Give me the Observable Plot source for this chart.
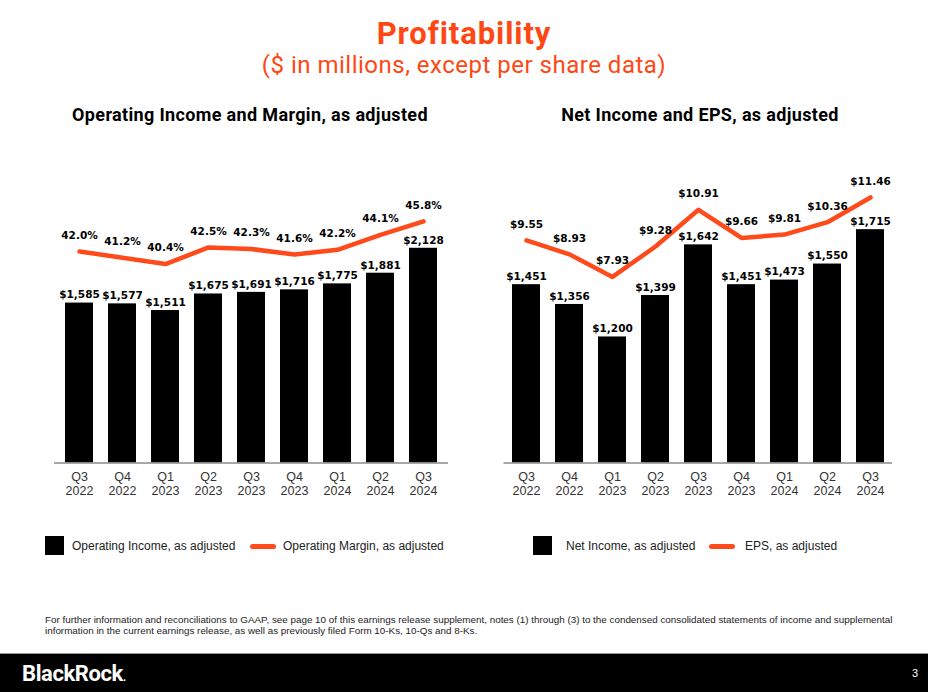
<!DOCTYPE html>
<html>
<head>
<meta charset="utf-8">
<script src="https://cdn.jsdelivr.net/npm/d3@7"></script>
<script src="https://cdn.jsdelivr.net/npm/@observablehq/plot@0.6"></script>
<style>
  html, body { margin: 0; padding: 0; background: #fff; }
  body { width: 928px; height: 692px; position: relative; overflow: hidden; font-family: "Liberation Sans", Arial, sans-serif; }
  .abs { position: absolute; }
  #title { left: 0; width: 928px; top: 15px; text-align: center; color: #ff4713; font: 700 31px Roboto, sans-serif; letter-spacing: 0.9px; }
  #subtitle { left: 0; width: 928px; top: 51px; text-align: center; color: #ff4713; font: 400 24px Roboto, sans-serif; letter-spacing: 0.5px; }
  .ctitle { top: 104px; font: 700 18px Roboto, sans-serif; letter-spacing: 0.35px; color: #000; text-align: center; }
  .leg { font: 12px "Liberation Sans", Arial, sans-serif; color: #222; top: 538px; line-height: 16px; }
  .sq { position: absolute; width: 19px; height: 19px; background: #000; }
  .ln { position: absolute; width: 26px; height: 5px; border-radius: 3px; background: #ff4a1c; }
  #foot { left: 45px; top: 614px; width: 880px; font: 9.85px "Liberation Sans Narrow", "Liberation Sans", sans-serif; color: #222; line-height: 11px; white-space: nowrap; }
  #bar { left: 0; top: 653px; width: 928px; height: 39px; background: #000; border-top: 1px solid #999; }
  #brand { left: 22px; top: 661px; color: #fff; font: 700 22px Roboto, sans-serif; letter-spacing: -0.4px; }
  #page { left: 912px; top: 667px; color: #fff; font: 11px "Liberation Sans", sans-serif; }
</style>
</head>
<body>
<div id="title" class="abs">Profitability</div>
<div id="subtitle" class="abs">($ in millions, except per share data)</div>
<div class="abs ctitle" style="left:40px;width:420px;">Operating Income and Margin, as adjusted</div>
<div class="abs ctitle" style="left:490px;width:420px;">Net Income and EPS, as adjusted</div>

<div id="left" class="abs" style="left:0;top:140px;"></div>
<div id="right" class="abs" style="left:464px;top:140px;"></div>

<div class="sq" style="left:45px;top:536px;"></div>
<div class="abs leg" style="left:72px;">Operating Income, as adjusted</div>
<div class="ln" style="left:250px;top:544px;"></div>
<div class="abs leg" style="left:283px;">Operating Margin, as adjusted</div>

<div class="sq" style="left:533px;top:536px;"></div>
<div class="abs leg" style="left:566px;">Net Income, as adjusted</div>
<div class="ln" style="left:709px;top:544px;"></div>
<div class="abs leg" style="left:745px;">EPS, as adjusted</div>

<div id="foot" class="abs">For further information and reconciliations to GAAP, see page 10 of this earnings release supplement, notes (1) through (3) to the condensed consolidated statements of income and supplemental<br>information in the current earnings release, as well as previously filed Form 10-Ks, 10-Qs and 8-Ks.</div>
<div id="bar" class="abs"></div>
<div id="brand" class="abs">BlackRock<span style="font-size:11px">.</span></div>
<div id="page" class="abs">3</div>

<script>
// ---- Data ----
const quarters = ["Q3 2022", "Q4 2022", "Q1 2023", "Q2 2023", "Q3 2023", "Q4 2023", "Q1 2024", "Q2 2024", "Q3 2024"];
const operatingIncome = [1585, 1577, 1511, 1675, 1691, 1716, 1775, 1881, 2128];
const operatingMargin = [42.0, 41.2, 40.4, 42.5, 42.3, 41.6, 42.2, 44.1, 45.8];
const netIncome = [1451, 1356, 1200, 1399, 1642, 1451, 1473, 1550, 1715];
const eps = [9.55, 8.93, 7.93, 9.28, 10.91, 9.66, 9.81, 10.36, 11.46];

const leftData = quarters.map((q, i) => ({q, income: operatingIncome[i], margin: operatingMargin[i]}));
const rightData = quarters.map((q, i) => ({q, income: netIncome[i], eps: eps[i]}));

const ORANGE = "#ff4a1c";
const fmtMoney = v => "$" + d3.format(",")(v);
const fmtPct = v => d3.format(".1f")(v) + "%";
const fmtEps = v => "$" + d3.format(".2f")(v);

const W = 464, H = 370, MB = 47.5;
const tickStyle = {label: null, tickSize: 0, fontSize: 12.5, fontFamily: "Liberation Sans", fill: "#333"};

function makeChart({data, yDomain, secDomain, secKey, secFmt, marginLeft, marginRight}) {
  // secondary axis: map line values onto the primary y domain
  const sec = d3.scaleLinear(secDomain, yDomain);
  return Plot.plot({
    width: W, height: H,
    marginTop: 0, marginBottom: MB, marginLeft, marginRight,
    x: {type: "band", domain: quarters, paddingInner: 0.355, paddingOuter: 0.185, axis: null, label: null},
    y: {domain: yDomain, axis: null},
    style: {background: "transparent", overflow: "visible"},
    marks: [
      Plot.barY(data, {x: "q", y1: yDomain[0], y2: "income", fill: "#000"}),
      Plot.ruleY([yDomain[0]], {stroke: "#8a8a8a", strokeWidth: 1.5}),
      Plot.axisX({...tickStyle, tickPadding: 9, tickFormat: d => d.split(" ")[0]}),
      Plot.axisX({...tickStyle, tickPadding: 23.5, tickFormat: d => d.split(" ")[1]}),
      Plot.text(data, {x: "q", y: "income", text: d => fmtMoney(d.income), dy: -8, fontSize: 10.5, fontWeight: "bold", fontFamily: "DejaVu Sans", fill: "#000"}),
      Plot.line(data, {x: "q", y: d => sec(d[secKey]), stroke: ORANGE, strokeWidth: 4.5, strokeLinecap: "round", strokeLinejoin: "round"}),
      Plot.text(data, {x: "q", y: d => sec(d[secKey]), text: d => secFmt(d[secKey]), dy: -16, fontSize: 10.5, fontWeight: "bold", fontFamily: "DejaVu Sans", fill: "#000"})
    ]
  });
}

document.getElementById("left").append(makeChart({
  data: leftData,
  yDomain: [0, 3196],
  secDomain: [15.2, 56.05],
  secKey: "margin",
  secFmt: fmtPct,
  marginLeft: 54, marginRight: 16
}));

document.getElementById("right").append(makeChart({
  data: rightData,
  yDomain: [595, 2143],
  secDomain: [-0.34, 13.99],
  secKey: "eps",
  secFmt: fmtEps,
  marginLeft: 39.5, marginRight: 36
}));
</script>
</body>
</html>
